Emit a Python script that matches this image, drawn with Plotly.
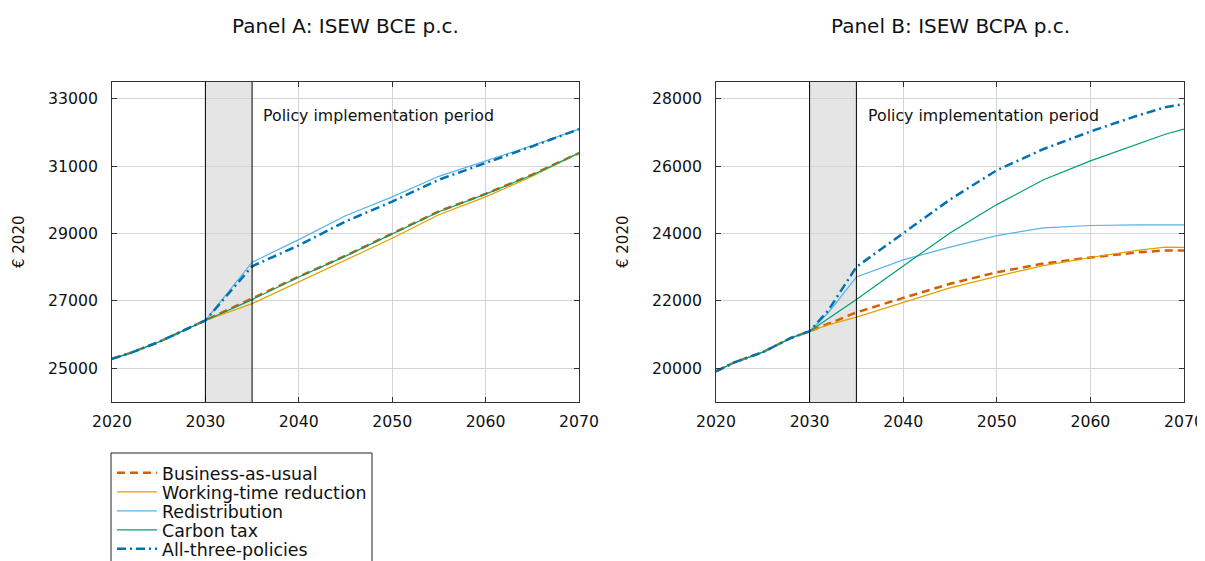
import plotly.graph_objects as go

# ---------------- data ----------------
series_names = ["Business-as-usual", "Working-time reduction", "Redistribution",
                "Carbon tax", "All-three-policies"]

years_a = [2020, 2022, 2025, 2028, 2030, 2035, 2040, 2045, 2050, 2055, 2060, 2065, 2070]
bau_a   = [25280, 25460, 25780, 26170, 26420, 27060, 27720, 28340, 29000, 29660, 30180, 30750, 31390]
wtr_a   = [25280, 25460, 25780, 26170, 26420, 26920, 27570, 28230, 28860, 29560, 30090, 30700, 31390]
red_a   = [25280, 25460, 25780, 26170, 26420, 28150, 28820, 29530, 30090, 30700, 31160, 31610, 32100]
ctax_a  = [25280, 25460, 25780, 26170, 26420, 27040, 27710, 28330, 28990, 29650, 30170, 30740, 31390]
all_a   = [25280, 25460, 25780, 26170, 26420, 28030, 28650, 29360, 29950, 30600, 31090, 31590, 32100]

years_b = [2020, 2022, 2025, 2028, 2030, 2032, 2035, 2040, 2045, 2050, 2055, 2060, 2065, 2068, 2070]
bau_b   = [19910, 20180, 20480, 20900, 21100, 21330, 21660, 22090, 22510, 22850, 23110, 23290, 23440, 23500, 23500]
wtr_b   = [19910, 20180, 20480, 20900, 21100, 21290, 21520, 21960, 22390, 22730, 23050, 23290, 23500, 23600, 23590]
red_b   = [19910, 20180, 20480, 20900, 21100, 21650, 22710, 23220, 23600, 23940, 24170, 24240, 24260, 24270, 24260]
ctax_b  = [19910, 20180, 20480, 20900, 21100, 21470, 22040, 23040, 24020, 24860, 25600, 26160, 26640, 26950, 27100]
all_b   = [19910, 20180, 20480, 20900, 21100, 21720, 23010, 24020, 25010, 25880, 26510, 27030, 27500, 27750, 27850]

panel_titles = ["Panel A: ISEW BCE p.c.", "Panel B: ISEW BCPA p.c."]
y_title = "€ 2020"
policy_start, policy_end = 2030, 2035
annotation_text = "Policy implementation period"
x_ticks = [2020, 2030, 2040, 2050, 2060, 2070]
y_ticks_a = [25000, 27000, 29000, 31000, 33000]
y_ticks_b = [20000, 22000, 24000, 26000, 28000]

# ---------------- styles ----------------
styles = [
    dict(color="#D55E00", width=2.5, dash="8px,5px"),
    dict(color="#E69F00", width=1.2, dash="solid"),
    dict(color="#56B4E9", width=1.2, dash="solid"),
    dict(color="#009E73", width=1.2, dash="solid"),
    dict(color="#0072B2", width=2.5, dash="9px,4px,2px,4px"),
]

# page body has an 8px margin; figure is offset by it
OFF = 8
FW, FH = 1205 - OFF, 600
FONT = "DejaVu Sans"


def px(xp):
    return (xp - OFF) / FW


def py(yp):
    return 1 - (yp - OFF) / FH


legend_ids = ["legend", "legend2", "legend3", "legend4", "legend5"]
legend_rows_px = [473, 492, 511, 530, 549]   # vertical slot of each legend row (pixels)

fig = go.Figure()

panels = [
    ("x", "y", years_a, [bau_a, wtr_a, red_a, ctax_a, all_a]),
    ("x2", "y2", years_b, [bau_b, wtr_b, red_b, ctax_b, all_b]),
]
for pi, (xa, ya, yrs, data) in enumerate(panels):
    for k, (name, vals, st) in enumerate(zip(series_names, data, styles)):
        fig.add_trace(go.Scatter(
            x=yrs, y=vals, mode="lines", name=name, xaxis=xa, yaxis=ya,
            line=st, showlegend=(pi == 0), legend=legend_ids[k]))

xdA = [px(112), px(579)]
xdB = [px(716), px(1184)]
yd = [py(402), py(82)]

axis_common = dict(
    showline=True, linecolor="#333333", linewidth=1, mirror="allticks",
    ticks="inside", ticklen=5, tickcolor="#333333", automargin=False,
    showgrid=True, gridcolor="#d4d4d4", gridwidth=1, zeroline=False,
    tickformat="d",
    tickfont=dict(family=FONT, size=15.7, color="#111111"),
)
xax = dict(range=[2020, 2070], tickvals=x_ticks, ticklabelstandoff=5,
           ticklabeloverflow="allow", **axis_common)
yax = dict(ticklabelstandoff=10, **axis_common)

legend_layout = {}
for lid, row in zip(legend_ids, legend_rows_px):
    legend_layout[lid] = dict(
        x=px(112), y=py(row), xanchor="left", yanchor="middle",
        borderwidth=0, bgcolor="rgba(0,0,0,0)",
        font=dict(family=FONT, size=17.4, color="#111111"),
        itemwidth=40)

fig.update_layout(
    width=FW, height=FH,
    margin=dict(l=0, r=0, t=0, b=0),
    paper_bgcolor="white", plot_bgcolor="white",
    font=dict(family=FONT, color="#111111"),
    xaxis=dict(domain=xdA, anchor="y", **xax),
    yaxis=dict(domain=yd, range=[24000, 33500], tickvals=y_ticks_a, anchor="x", **yax),
    xaxis2=dict(domain=xdB, anchor="y2", **xax),
    yaxis2=dict(domain=yd, range=[19000, 28500], tickvals=y_ticks_b, anchor="x2", **yax),
    showlegend=True,
    **legend_layout,
)

shapes = []
annotations = []
# legend frame
shapes.append(dict(type="rect", xref="paper", yref="paper", x0=px(111), x1=px(372),
                   y0=0, y1=py(453), line=dict(color="#222222", width=1),
                   fillcolor="white", layer="below"))
for xr, yr, ytxt, xd, title, ytx in [("x", "y", 32500, xdA, panel_titles[0], 19),
                                     ("x2", "y2", 27500, xdB, panel_titles[1], 623)]:
    shapes.append(dict(type="rect", xref=xr, yref=yr + " domain", x0=policy_start, x1=policy_end,
                       y0=0, y1=1, fillcolor="#e5e5e5", line=dict(width=0), layer="below"))
    for xv in (policy_start, policy_end):
        shapes.append(dict(type="line", xref=xr, yref=yr + " domain", x0=xv, x1=xv, y0=0, y1=1,
                           line=dict(color="black", width=1), layer="above"))
    annotations.append(dict(xref=xr, yref=yr, x=2036, y=ytxt, text=annotation_text,
                            showarrow=False, xanchor="left", yanchor="middle",
                            font=dict(family=FONT, size=15.8, color="#111111")))
    annotations.append(dict(xref="paper", yref="paper", x=(xd[0] + xd[1]) / 2, y=py(26),
                            text=title, showarrow=False, xanchor="center", yanchor="middle",
                            font=dict(family=FONT, size=20, color="#111111")))
    annotations.append(dict(xref="paper", yref="paper", x=px(ytx), y=(yd[0] + yd[1]) / 2,
                            text=y_title, textangle=-90, showarrow=False,
                            xanchor="center", yanchor="middle",
                            font=dict(family=FONT, size=15, color="#111111")))

fig.update_layout(shapes=shapes, annotations=annotations)
fig.write_html("out.html")
